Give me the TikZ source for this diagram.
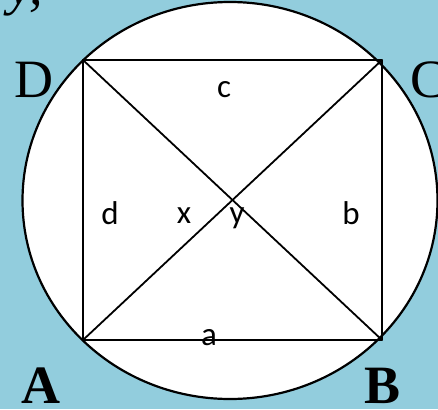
\documentclass[tikz,border=0pt]{standalone}
\usepackage{fontspec}
\setmainfont{Liberation Serif}
\newfontfamily\calibfont{Carlito}
\definecolor{bgblue}{RGB}{146,205,221}
\begin{document}
\begin{tikzpicture}[x=1pt,y=-1pt,
  side/.style={line width=1.8pt,line cap=round,line join=round},
  biglbl/.style={anchor=base,font=\fontsize{54}{54}\selectfont,inner sep=0pt},
  smalllbl/.style={anchor=base,font=\calibfont\fontsize{33}{33}\selectfont,inner sep=0pt}]
\useasboundingbox (0,0) rectangle (438,409);
\clip (0,0) rectangle (438,409);
\fill[bgblue] (0,0) rectangle (438,409);
\node[biglbl,anchor=base west] (frag) at (8,5) {\itshape y,};
\draw[line width=2.2pt,fill=white] (230,200.5) ellipse [x radius=207.5,y radius=198.5];
\coordinate (D) at (83,60);
\coordinate (C) at (382,60);
\coordinate (A) at (83,340);
\coordinate (B) at (382,340);
\draw[side] (A) -- (B) -- (C) -- (D) -- cycle;
\draw[side] (A) -- (C);
\draw[side] (D) -- (B);
\node[smalllbl] (lc) at (224,97) {c};
\node[smalllbl] (ld) at (110,224) {d};
\node[smalllbl] (lx) at (184,223) {x};
\node[smalllbl] (ly) at (237,223) {y};
\node[smalllbl] (lb) at (351,224) {b};
\node[smalllbl] (la) at (209,345) {a};
\node[biglbl] (LD) at (34,97) {D};
\node[biglbl] (LC) at (428,97) {C};
\node[biglbl,font=\fontsize{54}{54}\selectfont\bfseries] (LA) at (41,403) {A};
\node[biglbl,font=\fontsize{54}{54}\selectfont\bfseries] (LB) at (383,403) {B};
\end{tikzpicture}
\end{document}
